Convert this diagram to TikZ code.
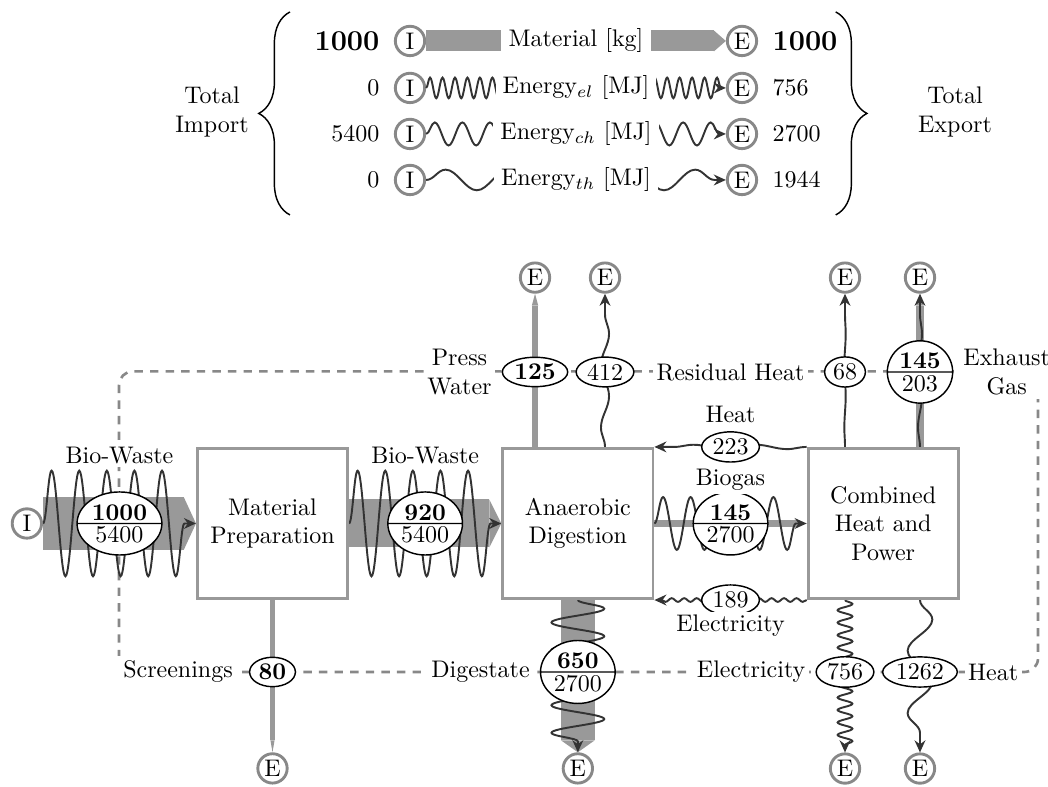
\documentclass[tikz,border=0pt]{standalone}
\usepackage{amsmath}
\usetikzlibrary{
  calc,
  arrows.meta,
  positioning,
  decorations.pathmorphing,
  decorations.pathreplacing,
  shapes.geometric,
  shapes.multipart
}
\definecolor{matgray}{RGB}{153,153,153}
\definecolor{termgray}{RGB}{136,136,136}
\definecolor{wavecol}{RGB}{51,51,51}
\pgfdeclarelayer{back}
\pgfdeclarelayer{flow}
\pgfsetlayers{back,flow,main}

\begin{document}
\begin{tikzpicture}[
    node distance=2.5pt,
    % Prozesse, Import/Export, Werte
    proc/.style={rectangle, draw=matgray, line width=1.2pt, fill=white, minimum width=2.2cm, minimum height=2.2cm, align=center},
    term/.style={circle, draw=termgray, line width=1.2pt, fill=white, minimum size=0.43cm, inner sep=0pt},
    val/.style={ellipse, draw=black, line width=0.6pt, fill=white, inner sep=1pt},
    vals/.style={ellipse split, draw=black, line width=0.6pt, fill=white, inner sep=1pt},
    lbl/.style={fill=white, inner sep=1.5pt, align=center},
    bound/.style={draw=termgray, line width=1.1pt, dash pattern=on 3.5pt off 3pt, rounded corners=0.2cm},
    % Stoffstrom, Breite ~ Masse
    mat/.style={draw=matgray, line width=#1, -{Triangle[width=0pt 1, length=5pt, line width=0pt]}},
    % Energiestroeme, Amplitude ~ Energie
    ener/.style={draw=wavecol, line width=0.8pt, decorate, -{Stealth[length=5pt, width=4.5pt]}},
    el/.style={ener, decoration={snake, amplitude=#1, segment length=5.2pt, post length=2pt}},
    ch/.style={ener, decoration={snake, amplitude=#1, segment length=11.5pt, post length=2pt}},
    th/.style={ener, decoration={snake, amplitude=#1, segment length=26pt, post length=2pt}}
  ]
  \useasboundingbox (0,0) rectangle (15.349,11.526);

  % Legende
  \node[term] (li1) at (6.005,10.926) {I};
  \node[term] (le1) at (10.867,10.926) {E};
  \node[term] (li2) at (6.005,10.238) {I};
  \node[term] (le2) at (10.867,10.238) {E};
  \node[term] (li3) at (6.005,9.564) {I};
  \node[term] (le3) at (10.867,9.564) {E};
  \node[term] (li4) at (6.005,8.890) {I};
  \node[term] (le4) at (10.867,8.890) {E};

  \node[left=of li1, font=\large\bfseries] (ni1) {1000};
  \node[left=of li2] (ni2) {0};
  \node[left=of li3] (ni3) {5400};
  \node[left=of li4] (ni4) {0};
  \node[right=of le1, font=\large\bfseries] (ne1) {1000};
  \node[right=of le2] (ne2) {756};
  \node[right=of le3] (ne3) {2700};
  \node[right=of le4] (ne4) {1944};

  \draw[mat=8.75pt] (li1) -- (le1) node[lbl, midway, inner sep=3pt] (tmat) {Material [kg]};
  \draw[el=4.3pt] (li2) -- (le2) node[lbl, midway, inner sep=3pt] (tel) {Energy$_{el}$ [MJ]};
  \draw[ch=4.8pt] (li3) -- (le3) node[lbl, midway, inner sep=3pt] (tch) {Energy$_{ch}$ [MJ]};
  \draw[th=4.3pt] (li4) -- (le4) node[lbl, midway, inner sep=3pt] (tth) {Energy$_{th}$ [MJ]};

  \draw[decorate, decoration={brace, amplitude=13pt}, line width=0.6pt] (4.247,8.378) -- (4.247,11.351);
  \draw[decorate, decoration={brace, amplitude=13pt}, line width=0.6pt] (12.240,11.351) -- (12.240,8.378);
  \node[align=center] (timp) at (3.105,9.887) {Total\\Import};
  \node[align=center] (texp) at (13.987,9.887) {Total\\Export};

  % Prozesse
  \node[proc] (mp) at (3.991,3.859) {Material\\Preparation};
  \node[proc, right=2.23cm of mp] (ad) {Anaerobic\\Digestion};
  \node[proc, right=2.23cm of ad] (chp) {Combined\\Heat and\\Power};
  \node[term, left=2.24cm of mp] (in) {I};

  % Export
  \node[term] (pw) at (7.836,7.46) {E};
  \node[term] (rh) at (8.861,7.46) {E};
  \node[term] (rc) at (12.376,7.46) {E};
  \node[term] (eg) at (13.474,7.46) {E};
  \node[term, below=2.23cm of mp] (sc) {E};
  \node[term, below=2.23cm of ad] (dg) {E};
  \node[term] (eb) at (12.376,0.27) {E};
  \node[term] (hb) at (13.474,0.27) {E};

  \coordinate (toprow) at (0,6.078);
  \coordinate (botrow) at (0,1.684);
  \coordinate (mid) at ($(ad.east)!0.5!(chp.west)$);

  % Bilanzgrenze
  \begin{pgfonlayer}{back}
    \draw[bound] (1.743,1.684) rectangle (15.203,6.086);
  \end{pgfonlayer}

  \begin{pgfonlayer}{flow}
    % Stoffstroeme
    \draw[mat=21.7pt] (in) -- (mp);
    \draw[mat=20pt] (mp) -- (ad);
    \draw[mat=3.15pt] (ad) -- (chp);
    \draw[mat=2.7pt] (pw |- ad.north) -- (pw);
    \draw[mat=3.15pt] (eg |- chp.north) -- (eg);
    \draw[mat=1.74pt] (mp) -- (sc);
    \draw[mat=14.1pt] (ad) -- (dg);
    % Energiestroeme
    \draw[ch=22pt] (in) -- (mp);
    \draw[ch=22pt] (mp) -- (ad);
    \draw[ch=11pt] (ad) -- (chp);
    \draw[th=0.91pt] (chp.north west) -- (ad.north east);
    \draw[el=0.77pt] (chp.south west) -- (ad.south east);
    \draw[th=1.68pt] (rh |- ad.north) -- (rh);
    \draw[th=0.28pt] (rc |- chp.north) -- (rc);
    \draw[th=0.83pt] (eg |- chp.north) -- (eg);
    \draw[ch=11pt] (ad) -- (dg);
    \draw[el=3.08pt] (eb |- chp.south) -- (eb);
    \draw[th=5.15pt] (hb |- chp.south) -- (hb);
  \end{pgfonlayer}

  % Werte
  \node[vals] (v1) at ($(in.east)!0.5!(mp.west)$) {\textbf{1000} \nodepart{lower} 5400};
  \node[vals] (v2) at ($(mp.east)!0.5!(ad.west)$) {\textbf{920} \nodepart{lower} 5400};
  \node[vals] (v3) at (mid) {\textbf{145} \nodepart{lower} 2700};
  \node[val] (v4) at ($(chp.north west)!0.5!(ad.north east)$) {223};
  \node[val] (v5) at ($(chp.south west)!0.5!(ad.south east)$) {189};
  \node[val] (v6) at (pw |- toprow) {\textbf{125}};
  \node[val] (v7) at (rh |- toprow) {412};
  \node[val] (v8) at (rc |- toprow) {68};
  \node[vals] (v9) at (eg |- toprow) {\textbf{145} \nodepart{lower} 203};
  \node[val] (v10) at (sc |- botrow) {\textbf{80}};
  \node[vals] (v11) at (dg |- botrow) {\textbf{650} \nodepart{lower} 2700};
  \node[val] (v12) at (eb |- botrow) {756};
  \node[val] (v13) at (hb |- botrow) {1262};

  % Beschriftungen
  \node[lbl] (lbw1) at ([yshift=1cm]v1.center) {Bio-Waste};
  \node[lbl] (lbw2) at ([yshift=1cm]v2.center) {Bio-Waste};
  \node[lbl] (lbg) at ([yshift=0.64cm]v3.center) {Biogas};
  \node[lbl] (lht) at ([yshift=0.48cm]v4.center) {Heat};
  \node[lbl] (lec) at ([yshift=-0.38cm]v5.center) {Electricity};
  \node[lbl, left=of v6] (lpw) {Press\\Water};
  \node[lbl] (lrh) at (mid |- toprow) {Residual Heat};
  \node[lbl, right=of v9] (lex) {Exhaust\\Gas};
  \node[lbl, left=of v10, inner xsep=4pt, inner ysep=2pt] (lsc) {Screenings};
  \node[lbl, left=of v11] (ldg) {Digestate};
  \node[lbl, left=of v12] (lel) {Electricity};
  \node[lbl, right=of v13] (lhe) {Heat};
\end{tikzpicture}
\end{document}
